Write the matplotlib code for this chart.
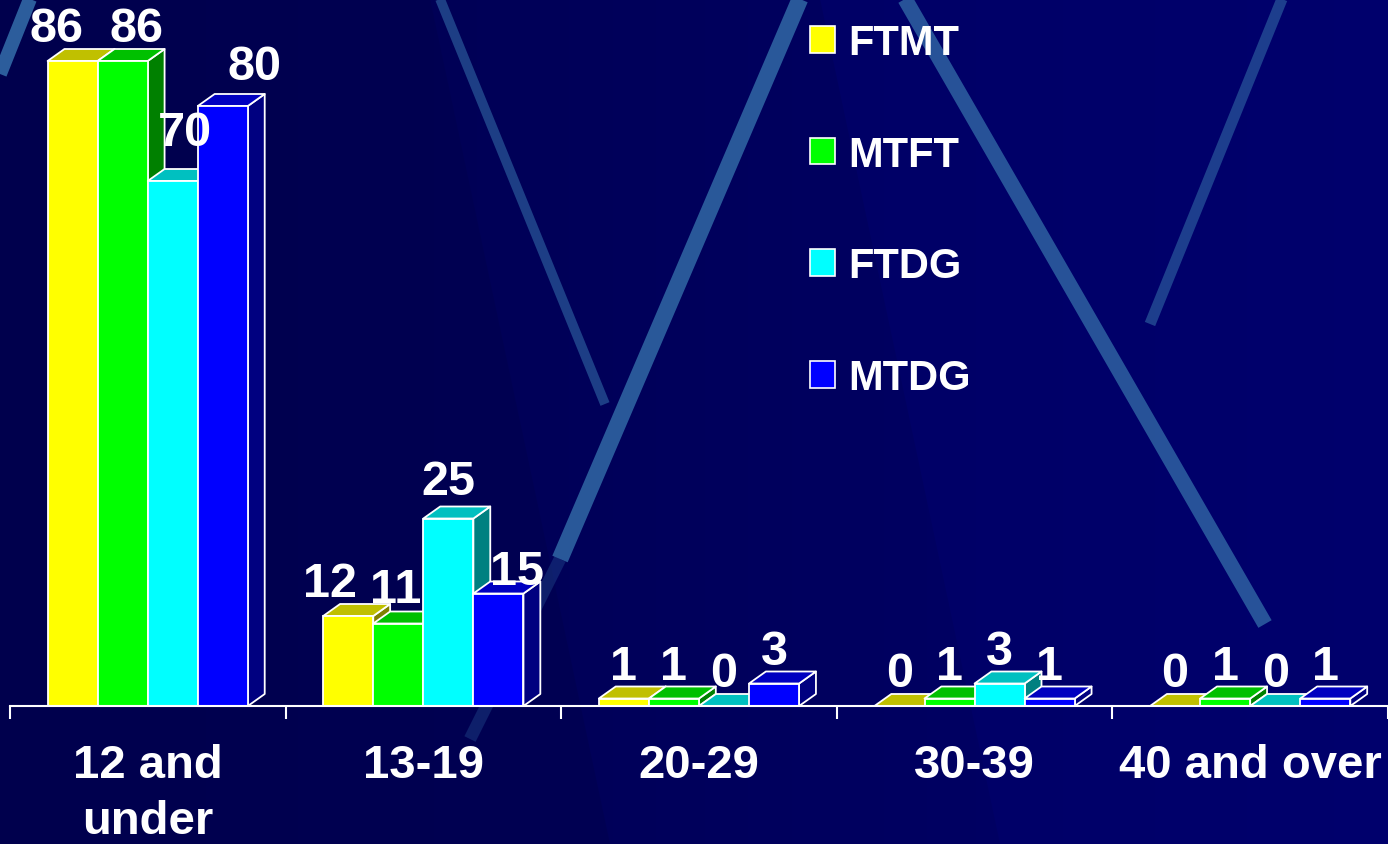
import numpy as np
import matplotlib.pyplot as plt
from matplotlib.patches import Rectangle, Polygon, Patch

# data
categories = ['12 and\nunder', '13-19', '20-29', '30-39', '40 and over']
series = ['FTMT', 'MTFT', 'FTDG', 'MTDG']
ftmt = [86, 12, 1, 0, 0]
mtft = [86, 11, 1, 1, 1]
ftdg = [70, 25, 0, 3, 0]
mtdg = [80, 15, 3, 1, 1]
values = [ftmt, mtft, ftdg, mtdg]

# face colours: front, top, side
front_colors = ['#FFFF00', '#00FF00', '#00FFFF', '#0000FF']
top_colors = ['#C0C000', '#00C000', '#00C0C0', '#0000C0']
side_colors = ['#808000', '#008000', '#008080', '#000080']

# label nudges in pixels (series x category), like the slide's hand placement
nudge_x = [[-16, -18, 0, 0, 0], [14, -3, 0, 0, 0], [12, 0, 0, 0, 0], [32, 19, 0, 0, 0]]
nudge_y = [[0, 0, 0, 0, 0], [0, 2, 0, 0, 0], [16, 5, 0, 0, 0], [7, -10, 0, 0, 0]]

W, H = 1388, 845
fig = plt.figure(figsize=(W / 100, H / 100), dpi=100)

# background (pixel coordinates)
bg = fig.add_axes([0, 0, 1, 1], zorder=0)
bg.set_xlim(0, W)
bg.set_ylim(H, 0)
bg.axis('off')
grad = np.linspace(0, 1, 256)[None, :]
bg.imshow(np.dstack([np.zeros_like(grad), np.zeros_like(grad), 0.30 + 0.12 * grad]),
          extent=[0, W, H, 0], aspect='auto')
bg.add_patch(Polygon([(0, 0), (430, 0), (610, 845), (0, 845)], color='#00004E', alpha=0.6, lw=0))
bg.add_patch(Polygon([(820, 0), (1388, 0), (1388, 845), (1000, 845)], color='#00006E', alpha=0.5, lw=0))
streak = '#3168A5'
for (x0, y0, x1, y1, lw, a) in [(0, 75, 30, 0, 10, 0.9), (440, 0, 605, 405, 7, 0.6),
                                (800, 0, 560, 560, 12, 0.85), (560, 560, 470, 740, 9, 0.3),
                                (905, 0, 1265, 625, 11, 0.8), (1282, 0, 1150, 325, 8, 0.6)]:
    bg.plot([x0, x1], [y0, y1], color=streak, lw=lw, alpha=a, solid_capstyle='butt')

# main chart axes, scaled so the baseline sits at y=707px
ax = fig.add_axes([0, 0, 1, 1], zorder=1)
ax.patch.set_alpha(0)
cat_px, x0_px, base_px, unit_px = 278, 149, 707, 7.5
ax.set_xlim(-x0_px / cat_px, (W - x0_px) / cat_px)
ax.set_ylim(-(H - base_px) / unit_px, base_px / unit_px)

bw = 50.5 / cat_px
dx = 17 / cat_px
dy = 12 / unit_px
ec = 'white'
lw = 1.3

for i in range(len(categories)):
    for j in range(len(series)):
        v = values[j][i]
        x = i - 2 * bw + j * bw
        ax.add_patch(Polygon([(x + bw, 0), (x + bw + dx, dy), (x + bw + dx, v + dy), (x + bw, v)],
                             facecolor=side_colors[j], edgecolor=ec, lw=lw, joinstyle='round'))
        ax.add_patch(Polygon([(x, v), (x + bw, v), (x + bw + dx, v + dy), (x + dx, v + dy)],
                             facecolor=top_colors[j], edgecolor=ec, lw=lw, joinstyle='round'))
        ax.add_patch(Rectangle((x, 0), bw, v, facecolor=front_colors[j], edgecolor=ec, lw=lw))
        ax.annotate(str(v), (x + bw / 2, v + dy),
                    xytext=(nudge_x[j][i] * 0.72, 5.5 + nudge_y[j][i] * 0.72),
                    textcoords='offset points', ha='center', va='baseline', color='white',
                    fontsize=35, fontweight='bold', family='Liberation Sans', zorder=5)

# axis
for s in ['top', 'left', 'right']:
    ax.spines[s].set_visible(False)
ax.spines['bottom'].set_position(('data', 0))
ax.spines['bottom'].set_bounds(-0.5, 4.6)
ax.spines['bottom'].set_color('white')
ax.spines['bottom'].set_linewidth(1.5)
ax.set_yticks([])
ax.set_xticks(np.arange(-0.5, 5, 1))
ax.set_xticklabels([])
ax.tick_params(axis='x', which='major', length=9.5, width=1.5, color='white', direction='out')
ax.set_xticks(np.arange(len(categories)), minor=True)
ax.set_xticklabels(categories, minor=True, color='white', fontsize=34, fontweight='bold',
                   family='Liberation Sans', linespacing=1.35)
ax.tick_params(axis='x', which='minor', length=0, pad=27)

handles = [Patch(facecolor=c, edgecolor='white', lw=1.2) for c in front_colors]
leg = fig.legend(handles, series, loc='upper left', bbox_to_anchor=(810 / W, 1 - 24 / H),
                 frameon=False, borderpad=0, borderaxespad=0, handlelength=0.6,
                 handleheight=0.6, handletextpad=0.32, labelspacing=1.72,
                 prop={'family': 'Liberation Sans', 'weight': 'bold', 'size': 30},
                 labelcolor='white')

fig.savefig('out.png', dpi=100)
